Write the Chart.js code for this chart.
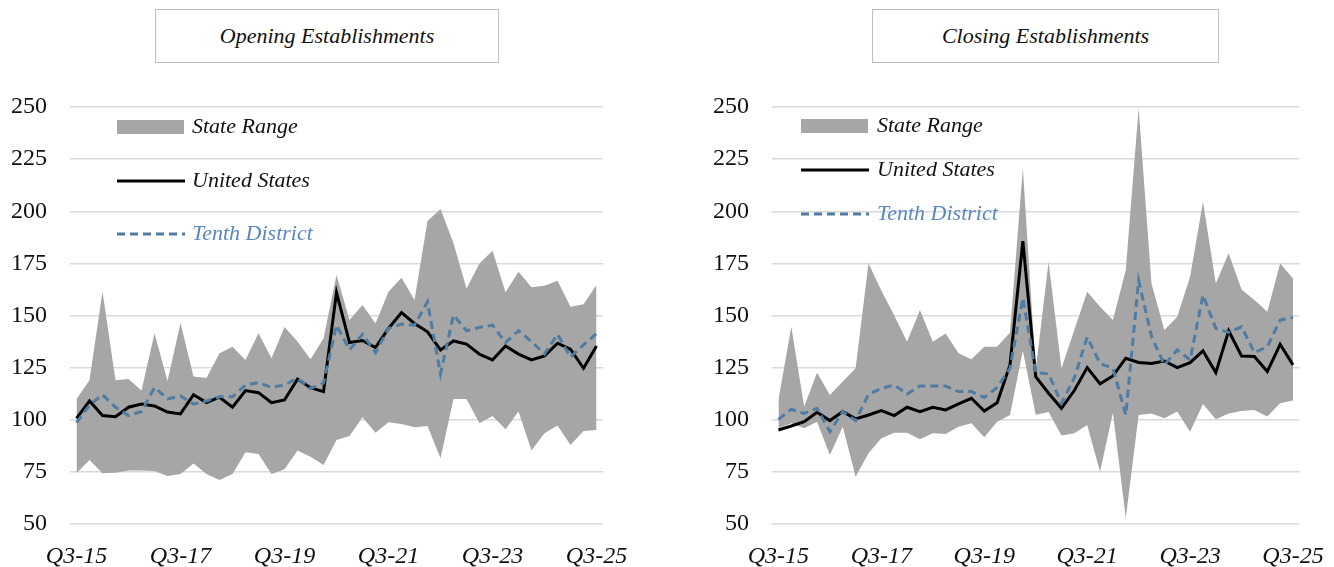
<!DOCTYPE html>
<html>
<head>
<meta charset="utf-8">
<script src="https://cdn.jsdelivr.net/npm/chart.js@4.4.1/dist/chart.umd.min.js"></script>
<style>
    body { margin: 0; width: 1334px; height: 567px; overflow: hidden; background: #fff; position: relative; font-family: 'Liberation Serif', serif; }
    .panel { position: absolute; top: 0; width: 667px; height: 600px; }
    .titleBox {
        position: absolute; top: 9px; height: 54px; box-sizing: border-box;
        border: 1.5px solid #bfbfbf; background: #fff;
        display: flex; align-items: center; justify-content: center;
        font-style: italic; font-size: 22px; color: #111;
    }
</style>
</head>
<body>
<div class="panel" style="left:0"><canvas id="graficoOpening" width="667" height="600"></canvas></div>
<div class="panel" style="left:667px"><canvas id="graficoClosing" width="667" height="600"></canvas></div>
<div class="titleBox" style="left:155px; width:344px">Opening Establishments</div>
<div class="titleBox" style="left:872px; width:347px">Closing Establishments</div>
<script>
// quarters Q3-15 .. Q3-25
const quarterLabels = [
    'Q3-15','Q4-15','Q1-16','Q2-16','Q3-16','Q4-16','Q1-17','Q2-17','Q3-17','Q4-17',
    'Q1-18','Q2-18','Q3-18','Q4-18','Q1-19','Q2-19','Q3-19','Q4-19','Q1-20','Q2-20',
    'Q3-20','Q4-20','Q1-21','Q2-21','Q3-21','Q4-21','Q1-22','Q2-22','Q3-22','Q4-22',
    'Q1-23','Q2-23','Q3-23','Q4-23','Q1-24','Q2-24','Q3-24','Q4-24','Q1-25','Q2-25','Q3-25'
];
const legendLabels = ['State Range', 'United States', 'Tenth District'];
const yTicks = { min: 50, max: 250, step: 25 };

// Opening establishments
const openUS = [100.7,109,102,101.5,106,107.5,106.6,103.7,102.8,112,108.2,110.8,106,114,113,108.2,109.5,119.5,115.4,113.5,
    161,137,138,134.6,143.8,151.4,146.2,142.2,133.5,137.8,136.3,131.4,128.7,135.4,131.5,128.7,130.6,136.7,133.8,124.7,135.4];
const openTenth = [98.6,107,112,106,102,104,115.5,110,111.4,107.5,109,111,111,116.7,117.8,115.5,116.7,119.9,115,117.5,
    145.4,133.5,141,132.2,143.8,145.9,145.4,156.6,122,150.2,142.7,144.3,145.4,137,142.7,137.5,131.5,141,130,135.9,141.4];
const openHigh = [110,119,161.5,119,119.5,114,141.5,118.6,146.4,120.7,120,131.9,135,128.7,141.5,129.5,144.5,137.5,129,139,
    169.4,147.8,155,146.2,161.4,168.1,157.4,195.3,201.1,184.6,163,175,181.1,161.1,171,163.5,164.3,166.7,154.2,155.4,164.6];
const openLow = [74.3,80.7,74.3,74.6,75.6,75.6,75.4,73,74,79,74,71.1,74,84.4,83.6,74,76.2,85.2,82.3,78.3,
    90.3,92.2,101.2,93.8,98.8,98,96.4,97,81.5,110,110,98.3,101.8,95.4,103.9,85.2,93.5,97.3,87.9,94.6,95.1];

// Closing establishments
const closeUS = [95.1,97,99.1,103.6,99.6,103.9,100.4,102.3,104.4,102,106,103.9,106,104.7,107.6,110.3,104.2,108.2,126.3,185.7,
    120.7,112.7,105.5,114,125,117.3,121,129.5,127.5,127,128.2,125,127.4,133,122.6,142.7,130.6,130.3,123.1,136.2,126.3];
const closeTenth = [100.2,105,103,105.5,94.3,103.9,99.6,112.2,115,116.7,112.3,116.2,116.2,116.2,113.5,113.5,110.7,115.5,124.7,158.4,
    122.6,122,107.9,120,139.6,127,124.7,102.3,166.8,140,126.3,133.5,128.7,159.8,143.8,141.9,144.6,132.2,135,147.8,149.1];
const closeHigh = [109.5,144.6,106.3,122.6,111.9,118.3,124.7,175,162,150,137.4,152.6,137.4,141.4,131.9,129,135,135,141.8,220.6,
    124,175.8,124.7,143,161.4,154.2,147.8,171.8,249.5,165.4,143,149.4,168.6,204.6,165.4,179.8,162.5,157.4,151.8,175,167.8];
const closeLow = [95.9,98.3,95.9,99.1,83.1,96.7,72.7,83.9,91.1,93.8,93.8,90.6,93.5,93.2,96.7,98.3,91.6,99.1,102.3,133.1,
    102.4,103.7,92.5,93.5,97.5,75.1,103.4,52.7,102.3,103,100.7,103.9,94.3,107.6,100.2,103,104.2,104.7,101.5,107.9,109.2];

const SERIF = "'Liberation Serif', 'Times New Roman', serif";
const GREY = '#a6a6a6';
const BLUE = '#4f7ca3';

// legend drawn inside the plot, like the original
const legendInside = {
    id: 'legendInside',
    afterDraw(chart, args, opts) {
        const ctx = chart.ctx;
        ctx.save();
        ctx.font = 'italic 22px ' + SERIF;
        ctx.textBaseline = 'middle';
        ctx.textAlign = 'left';
        // State Range
        ctx.fillStyle = GREY;
        ctx.fillRect(opts.x, opts.rows[0] - 7, 67, 14);
        ctx.fillStyle = '#111';
        ctx.fillText(legendLabels[0], opts.textX, opts.rows[0]);
        // United States
        ctx.strokeStyle = '#000';
        ctx.lineWidth = 3;
        ctx.beginPath();
        ctx.moveTo(opts.x, opts.rows[1]);
        ctx.lineTo(opts.x + 68, opts.rows[1]);
        ctx.stroke();
        ctx.fillText(legendLabels[1], opts.textX, opts.rows[1]);
        // Tenth District
        ctx.strokeStyle = BLUE;
        ctx.setLineDash([8, 5]);
        ctx.beginPath();
        ctx.moveTo(opts.x, opts.rows[2]);
        ctx.lineTo(opts.x + 68, opts.rows[2]);
        ctx.stroke();
        ctx.fillStyle = '#5a86c2';
        ctx.fillText(legendLabels[2], opts.textX, opts.rows[2]);
        ctx.restore();
    }
};

function makeConfig(low, high, us, tenth, yWidth, padRight, legendPos) {
    return {
        type: 'line',
        data: {
            labels: quarterLabels,
            datasets: [
                { label: 'low', data: low, borderColor: 'transparent', pointRadius: 0, fill: false, order: 3 },
                { label: legendLabels[0], data: high, borderColor: 'transparent', backgroundColor: GREY,
                  pointRadius: 0, fill: '-1', order: 4 },
                { label: legendLabels[1], data: us, borderColor: '#000', borderWidth: 3, pointRadius: 0,
                  tension: 0, fill: false, order: 2 },
                { label: legendLabels[2], data: tenth, borderColor: BLUE, borderWidth: 3, borderDash: [8, 5],
                  pointRadius: 0, tension: 0, fill: false, order: 1 }
            ]
        },
        options: {
            responsive: false,
            animation: false,
            layout: { padding: { top: 107, right: padRight, bottom: 0, left: 0 } },
            plugins: {
                legend: { display: false },
                tooltip: { enabled: false },
                legendInside: legendPos
            },
            scales: {
                x: {
                    offset: true,
                    grid: { display: false },
                    border: { display: false },
                    ticks: {
                        autoSkip: false, maxRotation: 0, minRotation: 0, padding: 10, color: '#111',
                        font: { family: SERIF, size: 24, style: 'italic' },
                        callback: (val, i) => (i % 8 === 0 ? quarterLabels[i] : '')
                    },
                    afterFit: (scale) => { scale.height = 76; }
                },
                y: {
                    min: yTicks.min,
                    max: yTicks.max,
                    grid: { color: '#d9d9d9', lineWidth: 1.5, drawTicks: false },
                    border: { display: false },
                    ticks: { stepSize: yTicks.step, padding: 23, color: '#111', font: { family: SERIF, size: 24 } },
                    afterFit: (scale) => { scale.width = yWidth; }
                }
            }
        },
        plugins: [legendInside]
    };
}

new Chart(document.getElementById('graficoOpening'),
    makeConfig(openLow, openHigh, openUS, openTenth, 70, 64, { x: 117, textX: 192, rows: [127, 181, 234] }));
new Chart(document.getElementById('graficoClosing'),
    makeConfig(closeLow, closeHigh, closeUS, closeTenth, 105, 27, { x: 134, textX: 210, rows: [126, 170, 214] }));
</script>
</body>
</html>
